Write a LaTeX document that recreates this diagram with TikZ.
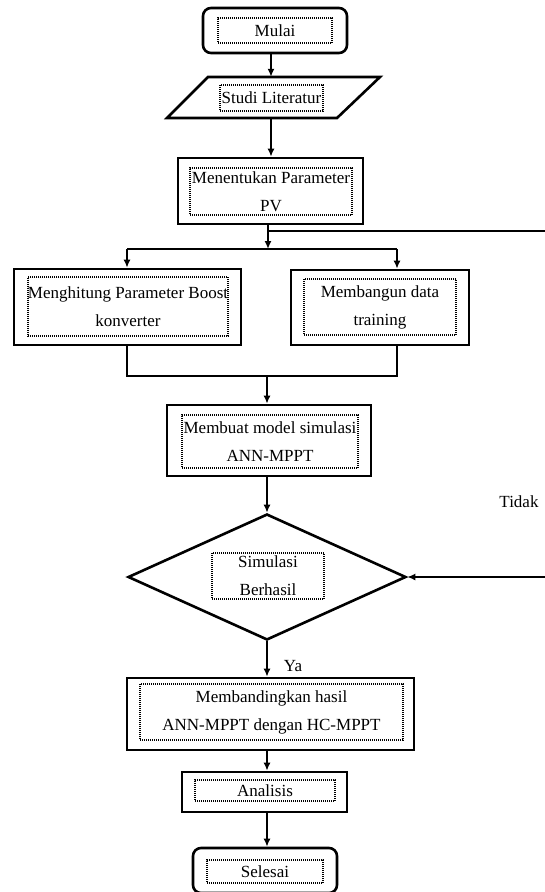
\documentclass[tikz,border=0pt]{standalone}
\usepackage{fontspec}
\setmainfont{Liberation Serif}
\usetikzlibrary{arrows.meta,shapes.geometric}
\begin{document}
\begin{tikzpicture}[x=1pt,y=-1pt,
  box/.style={draw,line width=2.6pt,rectangle,inner sep=0pt},
  rbox/.style={box,rounded corners=8pt},
  dbox/.style={draw,dash pattern=on 1pt off 1pt,line width=1.2pt,inner sep=0pt,align=center,font=\fontsize{17}{28}\selectfont},
  lbl/.style={font=\fontsize{17}{20}\selectfont,inner sep=0pt},
  arr/.style={line width=2pt,-{Latex[length=8pt,width=7pt]}},
  ln/.style={line width=2pt}]
\useasboundingbox (0,0) rectangle (544,892);

% Mulai
\node[rbox,minimum width=144pt,minimum height=45pt] (mulai) at (275,30.5) {};
\node[dbox,minimum width=114pt,minimum height=25pt] (mulaiT) at (275,30.5) {Mulai};

% Studi Literatur (parallelogram)
\node[inner sep=0pt,minimum width=171pt,minimum height=41pt] (lit) at (273.5,97.5) {};
\draw[line width=2.6pt,line join=miter] (208,77) -- (380,77) -- (337,118) -- (167,118) -- cycle;
\node[dbox,minimum width=103pt,minimum height=26pt] (litT) at (271.5,98) {Studi Literatur};

% Menentukan Parameter PV
\node[box,minimum width=185pt,minimum height=66pt] (pv) at (270.5,191) {};
\node[dbox,minimum width=162pt,minimum height=47pt] (pvT) at (271,191.5) {Menentukan Parameter\\PV};

% Boost
\node[box,minimum width=227pt,minimum height=76pt] (boost) at (127.5,307) {};
\node[dbox,minimum width=200pt,minimum height=59pt] (boostT) at (128,306.5) {Menghitung Parameter Boost\\konverter};

% Training
\node[box,minimum width=178pt,minimum height=75pt] (train) at (380,307.5) {};
\node[dbox,minimum width=152pt,minimum height=56pt] (trainT) at (380,307) {Membangun data\\training};

% Model
\node[box,minimum width=204pt,minimum height=71pt] (model) at (269,440.5) {};
\node[dbox,minimum width=176pt,minimum height=53pt] (modelT) at (270,441.5) {Membuat model simulasi\\ANN-MPPT};

% Decision
\node[draw,diamond,line width=2.6pt,inner sep=0pt,minimum width=278pt,minimum height=126pt] (dec) at (267,577) {};
\node[dbox,minimum width=112pt,minimum height=46pt] (decT) at (268,576) {Simulasi\\Berhasil};

% Compare
\node[box,minimum width=287pt,minimum height=72pt] (cmp) at (270.5,714) {};
\node[dbox,minimum width=263pt,minimum height=56pt] (cmpT) at (271.5,712) {Membandingkan hasil\\ANN-MPPT dengan HC-MPPT};

% Analisis
\node[box,minimum width=165pt,minimum height=40pt] (ana) at (264.5,792) {};
\node[dbox,minimum width=140pt,minimum height=21pt] (anaT) at (265,790.5) {Analisis};

% Selesai
\node[rbox,minimum width=144pt,minimum height=45pt] (fin) at (265,870.5) {};
\node[dbox,minimum width=116pt,minimum height=23pt] (finT) at (265,871.5) {Selesai};

% Labels
\node[lbl] (tidak) at (519,502) {Tidak};
\node[lbl] (ya) at (293,666) {Ya};

% Connectors
\coordinate (s1) at (271,0);
\coordinate (s2) at (268,0);
\coordinate (split) at (268,249);
\coordinate (splitL) at (127,249);
\coordinate (splitR) at (397,249);
\coordinate (mergeL) at (127,376);
\coordinate (mergeR) at (397,376);
\coordinate (merge) at (267,376);
\coordinate (tap) at (268,231);
\coordinate (loopTop) at (552,231);
\coordinate (loopBot) at (552,577);

\draw[arr] (mulai.south -| s1) -- (lit.north -| s1);
\draw[arr] (lit.south -| s1) -- (pv.north -| s1);
\draw[arr] (pv.south -| s2) -- (split);
\draw[ln] (splitL) -- (splitR);
\draw[arr] (splitL) -- (boost.north -| splitL);
\draw[arr] (splitR) -- (train.north -| splitR);
\draw[ln] (boost.south -| mergeL) -- (mergeL) -- (mergeR) -- (train.south -| mergeR);
\draw[arr] (merge) -- (model.north -| merge);
\draw[arr] (model.south -| dec.north) -- (dec.north);
\draw[arr] (dec.south) -- (cmp.north -| dec.south);
\draw[arr] (cmp.south -| merge) -- (ana.north -| merge);
\draw[arr] (ana.south -| merge) -- (fin.north -| merge);
\draw[arr] (tap) -- (loopTop) -- (loopBot) -- (dec.east);
\end{tikzpicture}
\end{document}
